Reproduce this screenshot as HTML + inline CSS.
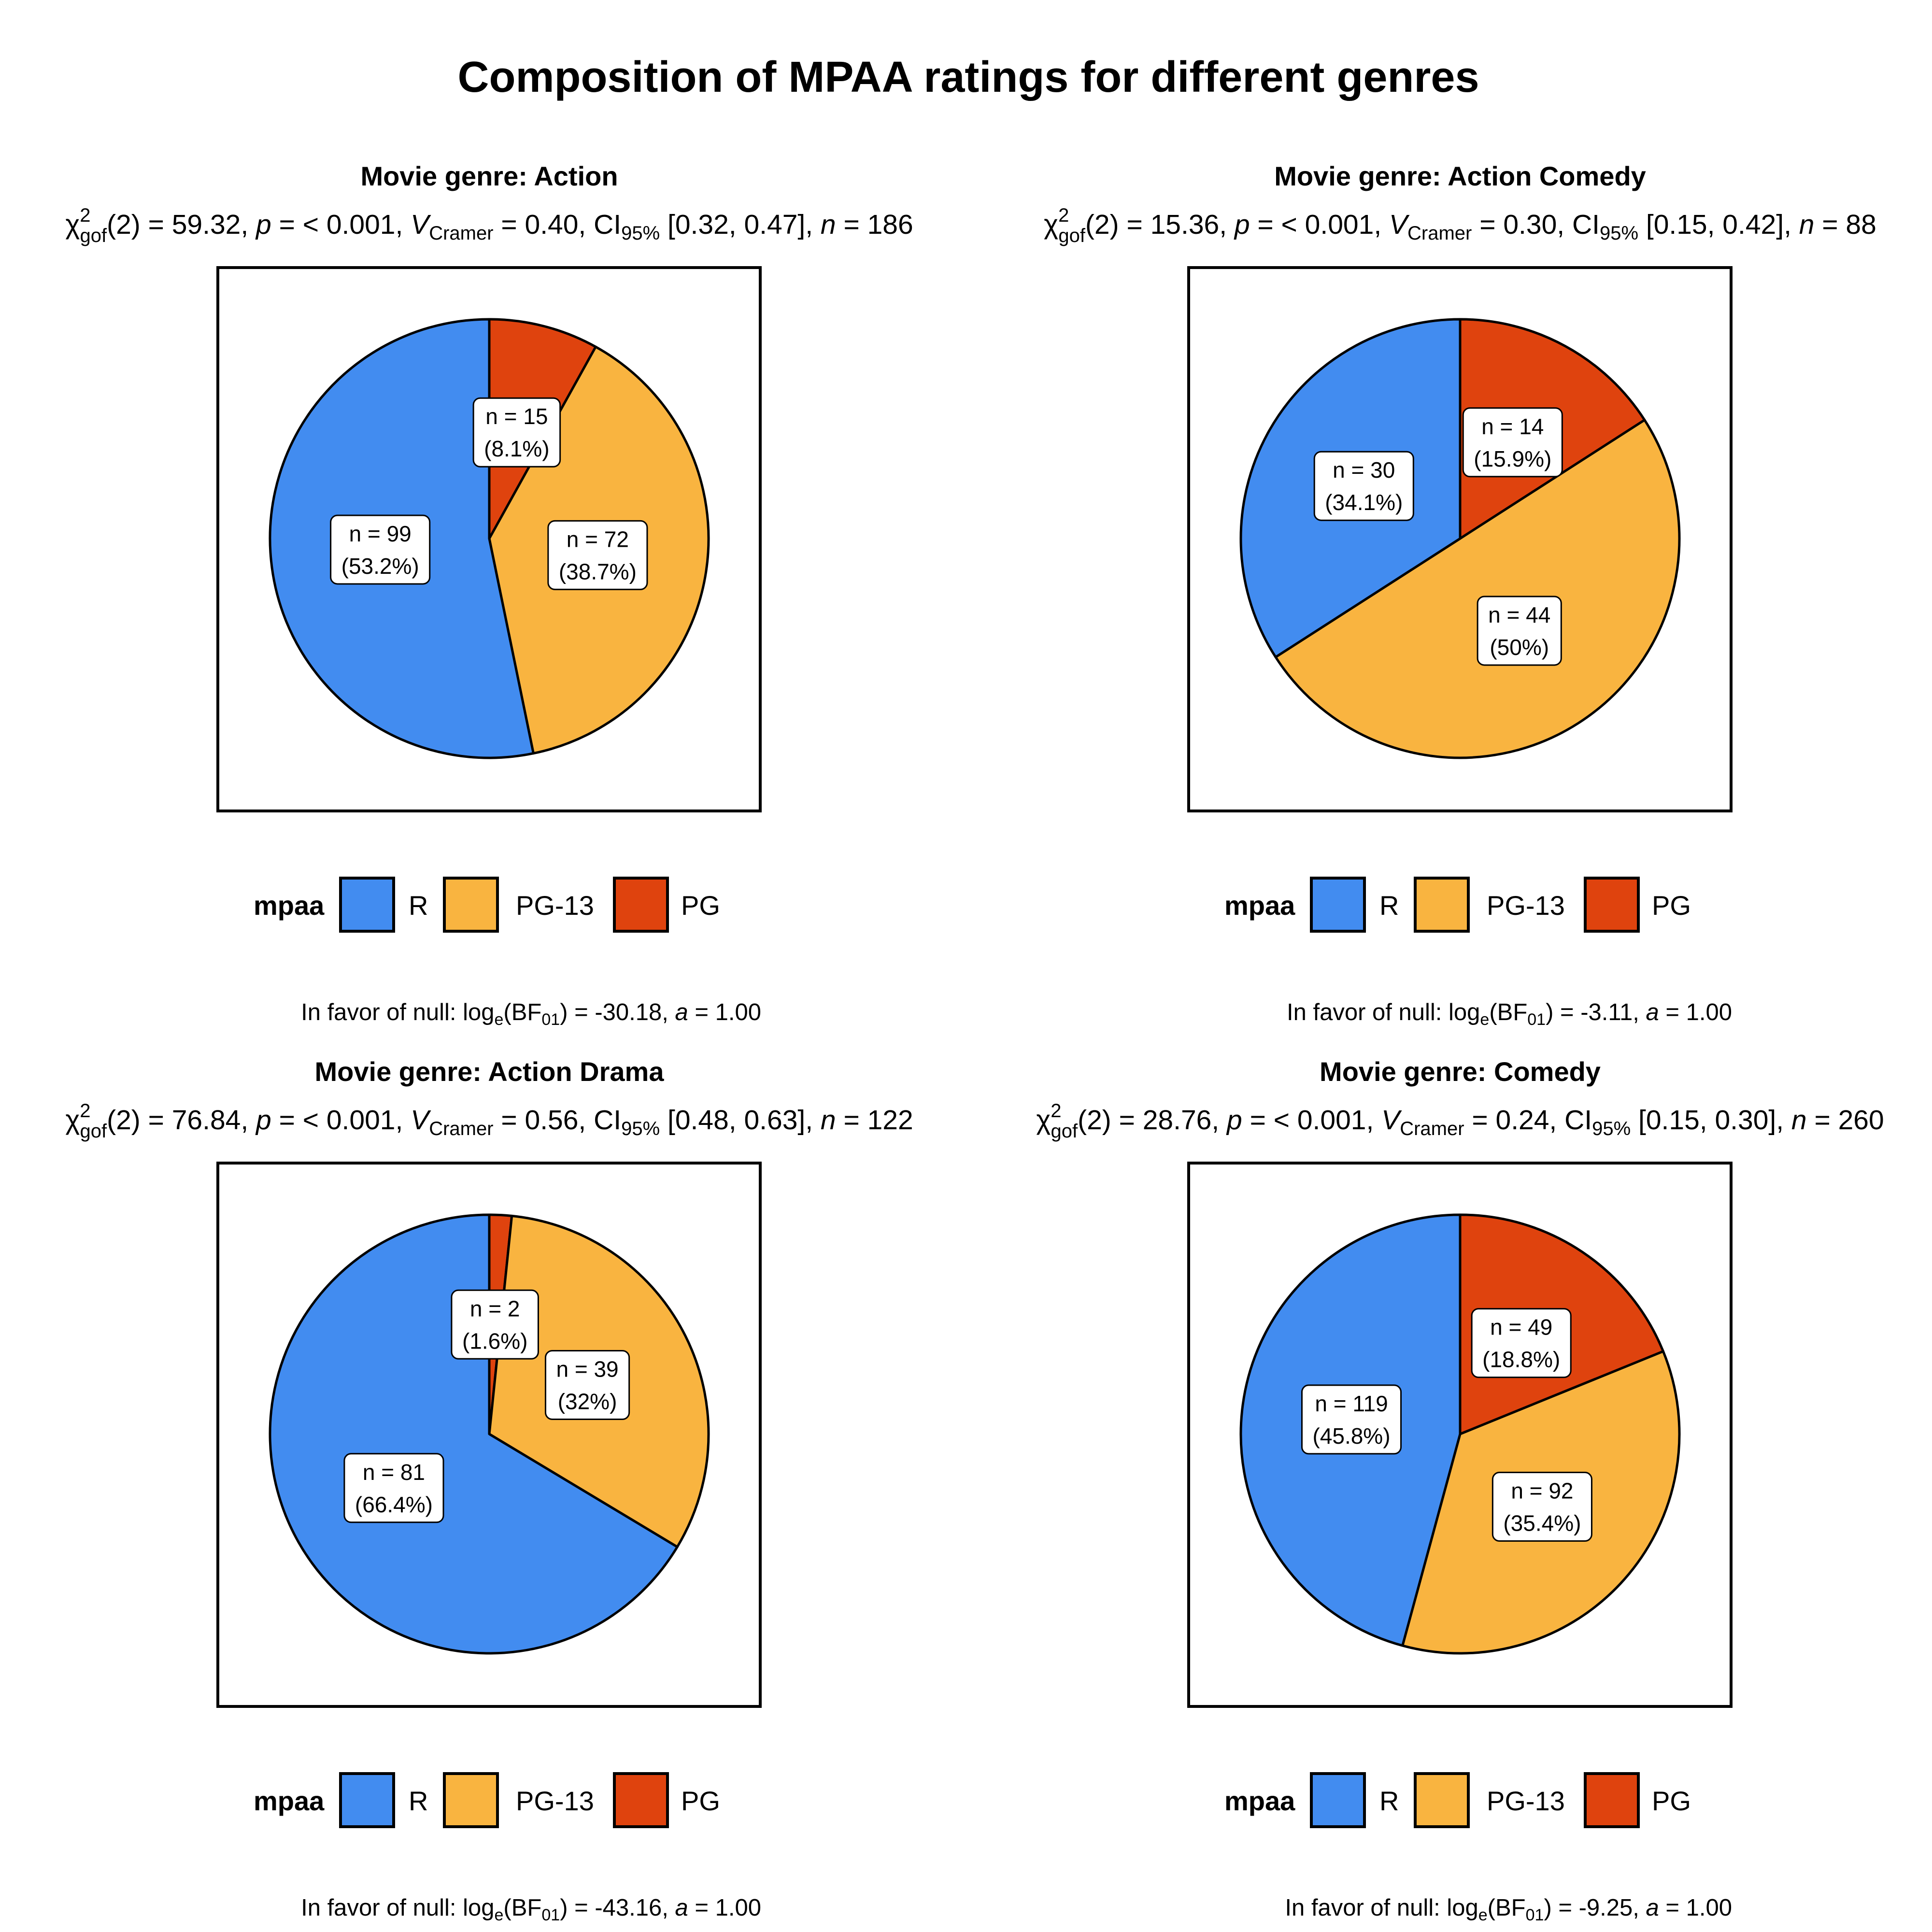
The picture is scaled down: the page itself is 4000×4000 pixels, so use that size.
<!DOCTYPE html>
<html><head><meta charset="utf-8"><style>
html,body{margin:0;padding:0;background:#fff}
svg{display:block}
text{font-family:"Liberation Sans",Arial,sans-serif;fill:#000}
</style></head><body>
<svg id="chart" width="4000" height="4000" viewBox="0 0 4000 4000">
<rect width="4000" height="4000" fill="#fff"/>
<text x="2005" y="190" font-size="90" font-weight="bold" text-anchor="middle">Composition of MPAA ratings for different genres</text>
</svg>
<script>
const genres = ["Action","Action Comedy","Action Drama","Comedy"];
const countsPG = [15,14,2,49];
const countsPG13 = [72,44,39,92];
const countsR = [99,30,81,119];
const chiVals = ["59.32","15.36","76.84","28.76"];
const vVals = ["0.40","0.30","0.56","0.24"];
const ciVals = ["[0.32, 0.47]","[0.15, 0.42]","[0.48, 0.63]","[0.15, 0.30]"];
const nVals = ["186","88","122","260"];
const bfVals = ["-30.18","-3.11","-43.16","-9.25"];
const categories = ["R","PG-13","PG"];

const colors = {"R":"#428cf0","PG-13":"#f9b440","PG":"#df430e"};
const NS = "http://www.w3.org/2000/svg";
const svg = document.getElementById("chart");
function mk(tag, attrs, parent){
  const e = document.createElementNS(NS, tag);
  for (const k in attrs) e.setAttribute(k, attrs[k]);
  (parent||svg).appendChild(e);
  return e;
}
function fmtPct(v){ return String(parseFloat(v.toFixed(1))); }

const offsets = [[0,0],[2010,0],[0,1854],[2010,1854]];
const R = 454;

genres.forEach((g,i)=>{
  const ox = offsets[i][0], oy = offsets[i][1];
  const grp = mk("g", {transform:`translate(${ox},${oy})`});
  
  

  const st = mk("text",{x:1013,y:384,"font-size":56,"font-weight":"bold","text-anchor":"middle"},grp);
  st.textContent = "Movie genre: " + g;
  
  

  const stats = mk("text",{x:1013,y:484,"font-size":57,"text-anchor":"middle"},grp);
  
  
  stats.innerHTML =
    `<tspan>χ</tspan><tspan font-size="40" dy="-25">2</tspan><tspan font-size="40" dx="-22" dy="42">gof</tspan>` +
    `<tspan dy="-17">(2) = ${chiVals[i]}, </tspan><tspan font-style="italic">p</tspan><tspan> = &lt; 0.001, </tspan>` +
    `<tspan font-style="italic">V</tspan><tspan font-size="40" dy="12">Cramer</tspan><tspan dy="-12"> = ${vVals[i]}, CI</tspan>` +
    `<tspan font-size="40" dy="12">95%</tspan><tspan dy="-12"> ${ciVals[i]}, </tspan><tspan font-style="italic">n</tspan><tspan> = ${nVals[i]}</tspan>`;

  const box = mk("rect",{x:451,y:554,width:1123,height:1125,fill:"none",stroke:"#000","stroke-width":6},grp);
  
  

  const cx = 1013, cy = 1115;
  const vals = [countsPG[i], countsPG13[i], countsR[i]];
  const names = ["PG","PG-13","R"];
  const total = vals.reduce((a,b)=>a+b,0);
  let acc = 0;
  const mids = [];
  vals.forEach((v,k)=>{
    const a0 = acc/total*2*Math.PI; acc += v;
    const a1 = acc/total*2*Math.PI;
    const x0 = cx + R*Math.sin(a0), y0 = cy - R*Math.cos(a0);
    const x1 = cx + R*Math.sin(a1), y1 = cy - R*Math.cos(a1);
    const large = (a1-a0) > Math.PI ? 1 : 0;
    const p = mk("path",{d:`M${cx},${cy} L${x0},${y0} A${R},${R} 0 ${large} 1 ${x1},${y1} Z`,fill:colors[names[k]],stroke:"#000","stroke-width":5,"stroke-linejoin":"round"},grp);
    
    
    mids.push([(a0+a1)/2, v]);
  });
  mids.forEach((m,k)=>{
    const lx = cx + 0.5*R*Math.sin(m[0]), ly = cy - 0.5*R*Math.cos(m[0]);
    const lg = mk("g",{},grp);
    
    
    const rect = mk("rect",{rx:14,ry:14,fill:"#fff",stroke:"#000","stroke-width":3},lg);
    const t1 = mk("text",{x:lx,y:ly-17,"font-size":46,"text-anchor":"middle"},lg);
    t1.textContent = "n = " + m[1];
    const t2 = mk("text",{x:lx,y:ly+50,"font-size":46,"text-anchor":"middle"},lg);
    t2.textContent = "(" + fmtPct(m[1]/total*100) + "%)";
    const w = Math.max(t1.getComputedTextLength(), t2.getComputedTextLength()) + 44;
    rect.setAttribute("x", lx - w/2); rect.setAttribute("y", ly-71);
    rect.setAttribute("width", w); rect.setAttribute("height", 142);
  });

  const lt = mk("text",{x:525,y:1894,"font-size":56,"font-weight":"bold"},grp);
  lt.textContent = "mpaa";
  
  
  const keyX = [705,920,1272], labX = [846,1068,1410];
  categories.forEach((c,k)=>{
    const kr = mk("rect",{x:keyX[k],y:1818,width:110,height:110,fill:colors[c],stroke:"#000","stroke-width":6},grp);
    
    
    const kt = mk("text",{x:labX[k],y:1894,"font-size":56},grp);
    kt.textContent = c;
    
    
  });

  const cap = mk("text",{x:1576,y:2112,"font-size":49,"text-anchor":"end"},grp);
  
  
  cap.innerHTML = `<tspan>In favor of null: log</tspan><tspan font-size="34" dy="10">e</tspan><tspan dy="-10">(BF</tspan><tspan font-size="34" dy="10">01</tspan><tspan dy="-10">) = ${bfVals[i]}, </tspan><tspan font-style="italic">a</tspan><tspan> = 1.00</tspan>`;
});
</script>
</body></html>
